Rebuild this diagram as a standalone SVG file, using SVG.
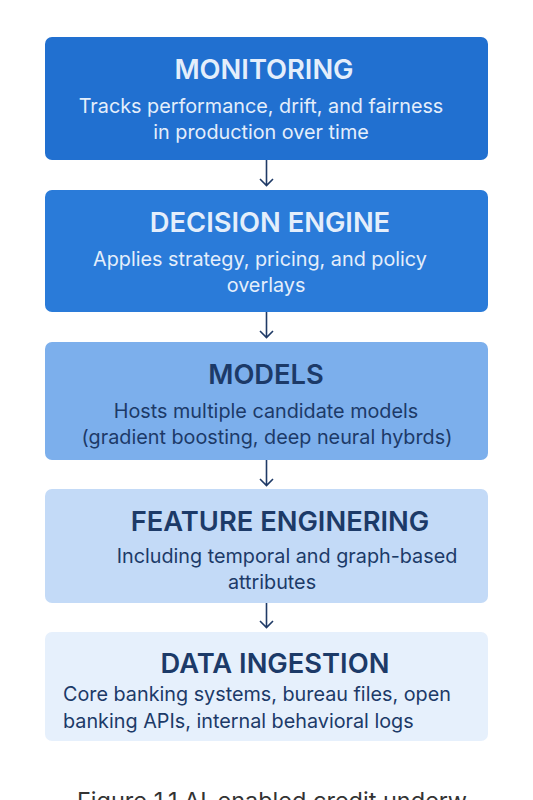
<svg xmlns="http://www.w3.org/2000/svg" width="533" height="800" viewBox="0 0 533 800">
<defs>
<style>
.box{stroke:none}
.t{font-family:Inter,"Liberation Sans",sans-serif;font-weight:600;font-size:27.3px;text-anchor:middle}
.s{font-family:Inter,"Liberation Sans",sans-serif;font-weight:400;font-size:19.8px;text-anchor:middle}
.light{fill:#e4eefb}
.dark{fill:#1c3a68}
.conn{stroke:#1f3a66;stroke-width:1.6;fill:none}
</style>
</defs>
<rect width="533" height="800" fill="#ffffff"/>
<g id="monitoring">
<rect class="box" x="45" y="37" width="443" height="123" rx="7" fill="#2170d0"/>
<text class="t light" x="264" y="79">MONITORING</text>
<text class="s light" x="261" y="113">Tracks performance, drift, and fairness</text>
<text class="s light" x="261" y="139">in production over time</text>
</g>
<g id="decision-engine">
<rect class="box" x="45" y="190" width="443" height="122" rx="7" fill="#2a7bd9"/>
<text class="t light" x="270" y="232">DECISION ENGINE</text>
<text class="s light" x="260" y="266">Applies strategy, pricing, and policy</text>
<text class="s light" x="266" y="292">overlays</text>
</g>
<g id="models">
<rect class="box" x="45" y="342" width="443" height="118" rx="7" fill="#7cafec"/>
<text class="t dark" x="266" y="384">MODELS</text>
<text class="s dark" x="266" y="418">Hosts multiple candidate models</text>
<text class="s dark" x="267" y="444">(gradient boosting, deep neural hybrds)</text>
</g>
<g id="feature-engineering">
<rect class="box" x="45" y="489" width="443" height="114" rx="7" fill="#c3daf7"/>
<text class="t dark" x="280" y="531">FEATURE ENGINERING</text>
<text class="s dark" x="287" y="563">Including temporal and graph-based</text>
<text class="s dark" x="272" y="589">attributes</text>
</g>
<g id="data-ingestion">
<rect class="box" x="45" y="632" width="443" height="109" rx="7" fill="#e6f0fc"/>
<text class="t dark" x="275" y="673">DATA INGESTION</text>
<text class="s dark" x="63" y="701" style="text-anchor:start">Core banking systems, bureau files, open</text>
<text class="s dark" x="63" y="728" style="text-anchor:start">banking APIs, internal behavioral logs</text>
</g>
<g id="connectors">
<path class="conn" d="M266.5 160V185M260 179L266.5 185.5L273 179"/>
<path class="conn" d="M266.5 312V337M260 331L266.5 337.5L273 331"/>
<path class="conn" d="M266.5 460V485M260 479L266.5 485.5L273 479"/>
<path class="conn" d="M266.5 603V627M260 621L266.5 627.5L273 621"/>
</g>
<text x="77" y="809" style="font-family:Inter,'Liberation Sans',sans-serif;font-size:23.5px;fill:#333333">Figure 1.1 AI-enabled credit underw</text>
</svg>
